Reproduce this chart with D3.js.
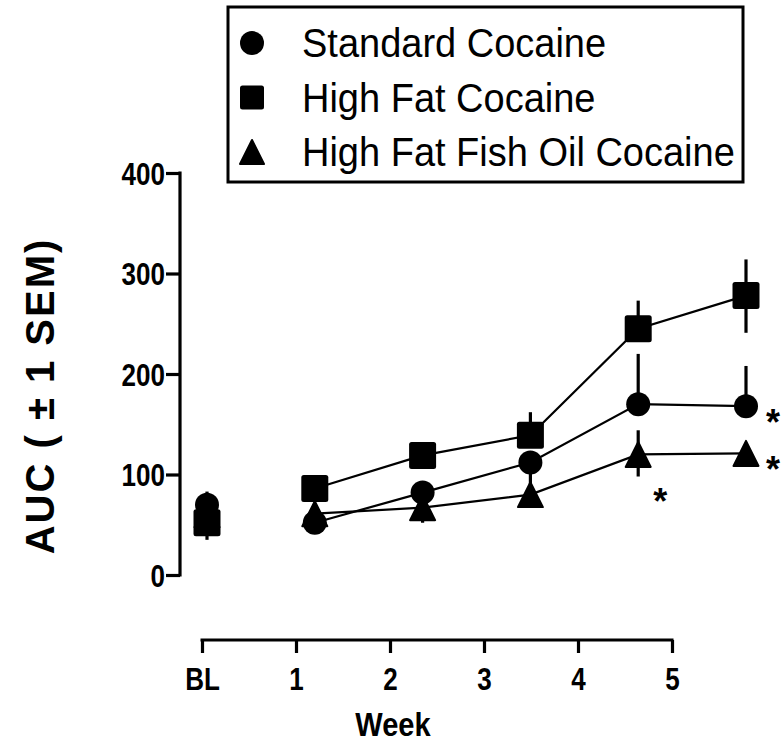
<!DOCTYPE html>
<html>
<head>
<meta charset="utf-8">
<script src="https://cdn.jsdelivr.net/npm/d3@7"></script>
<style>
  html, body { margin: 0; padding: 0; background: #fff; }
  svg { display: block; }
  text { font-family: "Liberation Sans", Arial, Helvetica, sans-serif; fill: #000; }
</style>
</head>
<body>
<svg id="chart" width="781" height="743"></svg>
<script>
// Test sessions: baseline followed by five weekly sessions
const weeks = ["BL", "1", "2", "3", "4", "5"];
const yTicks = [0, 100, 200, 300, 400];

const seriesNames = ["Standard Cocaine", "High Fat Cocaine", "High Fat Fish Oil Cocaine"];
const seriesShapes = ["circle", "square", "triangle"];

// Mean AUC per session
const standardMean = [70, 52, 82, 112, 170, 168];
const highFatMean  = [52, 86, 119, 139, 245, 278];
const fishOilMean  = [60, 61, 67, 80, 120, 121];

// SEM drawn above / below each mean
const standardErrUp   = [13, 4, 6, 8, 50, 40];
const standardErrDown = [10, 4, 6, 22, 0, 0];
const highFatErrUp    = [8, 6, 13, 23, 28, 36];
const highFatErrDown  = [17, 6, 8, 8, 0, 37];
const fishOilErrUp    = [8, 5, 5, 6, 24, 5];
const fishOilErrDown  = [8, 5, 15, 6, 22, 5];

// Significance markers: series index and session
const starSeries = [0, 2, 2];
const starWeeks  = ["5", "5", "4"];

const series = [
  { name: seriesNames[0], shape: seriesShapes[0], mean: standardMean, up: standardErrUp, down: standardErrDown },
  { name: seriesNames[1], shape: seriesShapes[1], mean: highFatMean,  up: highFatErrUp,  down: highFatErrDown },
  { name: seriesNames[2], shape: seriesShapes[2], mean: fishOilMean,  up: fishOilErrUp,  down: fishOilErrDown }
];

// horizontal squeeze for the tall, narrow bold labels
const narrow = 0.84;

const svg = d3.select("#chart");

const y = d3.scaleLinear().domain([0, 400]).range([575, 173]);
// marks and the detached week axis use their own horizontal spans
const xMark = d3.scalePoint().domain(weeks).range([207, 746]);
const xAxisScale = d3.scalePoint().domain(weeks).range([202, 672]);

// ---- y axis ----
const yAxisG = svg.append("g")
  .attr("transform", "translate(180,0)")
  .call(d3.axisLeft(y).tickValues(yTicks).tickSize(14).tickSizeOuter(0).tickPadding(1));
yAxisG.select(".domain").attr("stroke", "#000").attr("stroke-width", 3.2)
  .attr("d", `M0,${y(400) - 1.5}V${y(0) + 1.5}`);
yAxisG.selectAll(".tick line").attr("stroke", "#000").attr("stroke-width", 3.2);
yAxisG.selectAll(".tick text")
  .style("font-family", "'Liberation Sans', Arial, sans-serif")
  .style("font-size", "31px").style("font-weight", "bold").attr("fill", "#000")
  .attr("dy", "0.36em")
  .attr("x", function () { return +d3.select(this).attr("x") / narrow; })
  .attr("transform", `scale(${narrow},1)`);

// ---- x axis ----
const xAxisG = svg.append("g")
  .attr("transform", "translate(0,640)")
  .call(d3.axisBottom(xAxisScale).tickSize(13).tickSizeOuter(0).tickPadding(15));
xAxisG.select(".domain").attr("stroke", "#000").attr("stroke-width", 3.2)
  .attr("d", `M${xAxisScale("BL") - 1.5},0H${xAxisScale("5") + 1.5}`);
xAxisG.selectAll(".tick line").attr("stroke", "#000").attr("stroke-width", 3.2);
xAxisG.selectAll(".tick text")
  .style("font-family", "'Liberation Sans', Arial, sans-serif")
  .style("font-size", "31px").style("font-weight", "bold").attr("fill", "#000")
  .attr("transform", `scale(${narrow},1)`);

// ---- axis titles ----
svg.append("text")
  .attr("transform", `translate(393,736) scale(0.88,1)`)
  .attr("text-anchor", "middle")
  .style("font-size", "33px").style("font-weight", "bold")
  .text("Week");

svg.append("text")
  .attr("transform", "translate(54,396) rotate(-90)")
  .attr("text-anchor", "middle")
  .style("font-size", "40px").style("font-weight", "bold")
  .style("letter-spacing", "2px")
  .text("AUC ( \u00B1 1 SEM)");

// ---- marker drawing ----
function drawMarker(g, shape, cx, cy, s) {
  if (shape === "circle") {
    g.append("circle").attr("cx", cx).attr("cy", cy).attr("r", s / 2).attr("fill", "#000");
  } else if (shape === "square") {
    g.append("rect").attr("x", cx - s / 2).attr("y", cy - s / 2)
      .attr("width", s).attr("height", s).attr("rx", 2.5).attr("fill", "#000");
  } else {
    const h = s / 2;
    g.append("path")
      .attr("d", `M${cx},${cy - h}L${cx + h},${cy + h}L${cx - h},${cy + h}Z`)
      .attr("fill", "#000").attr("stroke", "#000").attr("stroke-width", 2)
      .attr("stroke-linejoin", "round");
  }
}
const markerSize = { circle: 24, square: 27, triangle: 25 };

const plot = svg.append("g");

// connecting lines (weekly sessions only; baseline stands alone)
const line = d3.line()
  .x(d => xMark(d.week))
  .y(d => y(d.value));

series.forEach(s => {
  const pts = weeks.map((w, i) => ({ week: w, value: s.mean[i] })).filter(d => d.week !== "BL");
  plot.append("path")
    .datum(pts)
    .attr("d", line)
    .attr("fill", "none")
    .attr("stroke", "#000")
    .attr("stroke-width", 2.2);
});

// error bars
series.forEach(s => {
  weeks.forEach((w, i) => {
    const m = s.mean[i];
    plot.append("line")
      .attr("x1", xMark(w)).attr("x2", xMark(w))
      .attr("y1", y(m + s.up[i])).attr("y2", y(m - s.down[i]))
      .attr("stroke", "#000").attr("stroke-width", 3.2);
  });
});

// markers
series.forEach(s => {
  weeks.forEach((w, i) => {
    drawMarker(plot, s.shape, xMark(w), y(s.mean[i]), markerSize[s.shape]);
  });
});

// significance asterisks
starSeries.forEach((si, k) => {
  const w = starWeeks[k];
  const i = weeks.indexOf(w);
  const onRight = w === "5";
  const cx = onRight ? xMark(w) + 27 : xMark(w) + 22;
  const cy = onRight ? y(series[si].mean[i]) + 9 : y(series[si].mean[i]) + 40;
  svg.append("text")
    .attr("x", cx).attr("y", cy + 20)
    .attr("text-anchor", "middle")
    .style("font-size", "36px").style("font-weight", "bold")
    .text("*");
});

// ---- legend ----
const legend = svg.append("g");
legend.append("rect")
  .attr("x", 228).attr("y", 7).attr("width", 515).attr("height", 175)
  .attr("fill", "#fff").attr("stroke", "#000").attr("stroke-width", 3);

const legendY = d3.scalePoint().domain(seriesNames).range([43, 152]);
seriesNames.forEach((name, i) => {
  const cy = legendY(name);
  drawMarker(legend, seriesShapes[i], 252, cy, 24);
  legend.append("text")
    .attr("transform", `translate(302,${cy + 14}) scale(0.95,1)`)
    .style("font-size", "40px")
    .text(name);
});
</script>
</body>
</html>
